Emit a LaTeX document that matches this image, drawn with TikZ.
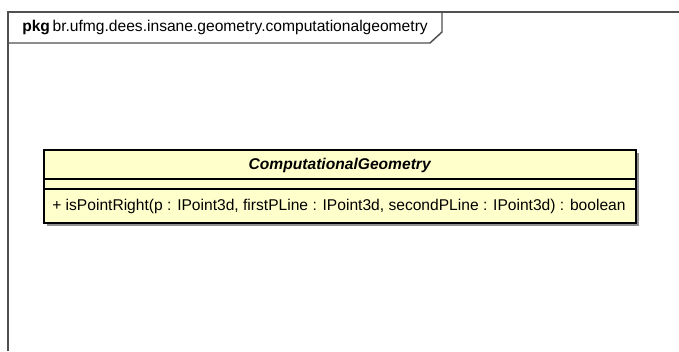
\documentclass[tikz,border=0pt]{standalone}
\usepackage{fontspec}
\setmainfont{Liberation Sans}
\definecolor{classfill}{HTML}{FFFFCC}
\definecolor{framecol}{HTML}{505050}
\definecolor{shadowcol}{HTML}{909090}
\begin{document}
\begin{tikzpicture}[x=0.75pt,y=-0.75pt,
  frameline/.style={draw=framecol,line width=1.1pt},
  boxline/.style={draw=black,line width=1.2pt},
  txt/.style={font=\fontsize{11.7pt}{13pt}\selectfont,inner sep=0pt}]
\useasboundingbox (0,0) rectangle (679,351);
\fill[white] (0,0) rectangle (679,351);
% package frame
\draw[frameline] (8,351) -- (8,12) -- (679,12);
\draw[frameline] (8,43) -- (430,43) -- (442,32) -- (442,12);
\node[txt,anchor=base west] (pkg) at (22,31) {\textbf{pkg}\,br.ufmg.dees.insane.geometry.computationalgeometry};
% class box shadow
\fill[shadowcol] (46.5,152.5) rectangle (638.5,225.5);
\fill[classfill] (44,150) rectangle (636,223);
\draw[black,line width=0.8pt] (44,179) -- (636,179);
\draw[black,line width=0.8pt] (44,189) -- (636,189);
\draw[boxline] (44,150) rectangle (636,223);
\node[txt,anchor=base] (cname) at (340,169.5) {\textbf{\textit{ComputationalGeometry}}};
\node[txt,anchor=base west] (m1) at (52,210.5) {+ isPointRight(p : IPoint3d, firstPLine : IPoint3d, secondPLine : IPoint3d) : boolean};
\end{tikzpicture}
\end{document}
